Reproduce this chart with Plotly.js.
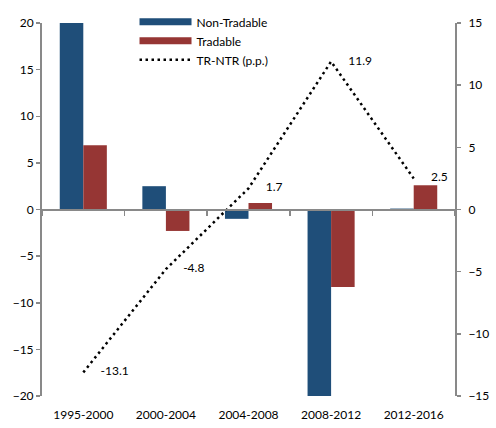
<!DOCTYPE html>
<html>
<head>
<meta charset="utf-8">
<script src="https://cdn.plot.ly/plotly-3.0.1.min.js"></script>
<style>html,body{margin:0;padding:0;background:#fff;}#chart{width:496px;height:428px;}</style>
</head>
<body>
<div id="chart"></div>
<script>
var categories = ["1995-2000", "2000-2004", "2004-2008", "2008-2012", "2012-2016"];
var nonTradable = [20.0, 2.5, -1.0, -20.2, 0.1];
var tradable = [6.9, -2.3, 0.7, -8.3, 2.6];
var trNtr = [-13.1, -4.8, 1.7, 11.9, 2.5];
var seriesNames = ["Non-Tradable", "Tradable", "TR-NTR (p.p.)"];

var blue = "#1F4E79";
var red = "#963634";
var grey = "#898989";
var font = {family: "Lato, 'Open Sans', sans-serif", size: 12, color: "#000"};

var traces = [
  {type: "bar", x: categories, y: nonTradable, name: seriesNames[0], marker: {color: blue}, showlegend: false, xaxis: "x", yaxis: "y", hoverinfo: "none"},
  {type: "bar", x: categories, y: tradable, name: seriesNames[1], marker: {color: red}, showlegend: false, xaxis: "x", yaxis: "y", hoverinfo: "none"},
  {type: "scatter", mode: "lines", x: [null], y: [null], name: seriesNames[0], line: {color: blue, width: 7}, xaxis: "x", yaxis: "y"},
  {type: "scatter", mode: "lines", x: [null], y: [null], name: seriesNames[1], line: {color: red, width: 7}, xaxis: "x", yaxis: "y"},
  {type: "scatter", mode: "lines", x: [null], y: [null], name: seriesNames[2], line: {color: "#000", width: 2.5, dash: "2.5px,3.5px"}, xaxis: "x", yaxis: "y"},
  {type: "scatter", mode: "lines+markers+text", x: categories, y: trNtr, name: seriesNames[2], showlegend: false,
   line: {color: "#000", width: 2.5, dash: "2.5px,3.5px"},
   marker: {size: 26, color: "rgba(0,0,0,0)"},
   text: trNtr.map(function (v) { return v.toFixed(1); }),
   textposition: "middle right", textfont: font, cliponaxis: false,
   xaxis: "x2", yaxis: "y2", hoverinfo: "none"}
];

var layout = {
  width: 496, height: 428,
  margin: {l: 42, r: 40.5, t: 23, b: 32, pad: 0, autoexpand: false},
  paper_bgcolor: "#fff", plot_bgcolor: "#fff",
  font: font,
  barmode: "group", bargap: 0.43, bargroupgap: 0,
  showlegend: true,
  legend: {x: 0.224, xanchor: "left", y: 1.042, yanchor: "top", bgcolor: "rgba(0,0,0,0)", font: font, itemwidth: 52, tracegroupgap: 0, traceorder: "normal"},
  xaxis: {type: "category", range: [-0.5, 4.5], showline: false, showgrid: false, zeroline: false, ticks: "outside", ticklen: 8, tickcolor: "rgba(0,0,0,0)", tickfont: font, fixedrange: true},
  xaxis2: {type: "category", overlaying: "x", anchor: "free", position: 0.5, range: [-0.5, 4.5], showline: true, linecolor: grey, linewidth: 2, ticks: "outside", tickson: "boundaries", ticklen: 5, tickwidth: 1.5, tickcolor: grey, showticklabels: false, showgrid: false, zeroline: false, fixedrange: true},
  yaxis: {range: [-20, 20], dtick: 5, showline: true, linecolor: grey, linewidth: 2, ticks: "outside", ticklen: 4, tickwidth: 1.5, tickcolor: grey, showgrid: false, zeroline: false, tickfont: font, fixedrange: true},
  yaxis2: {range: [-15, 15], dtick: 5, overlaying: "y", side: "right", anchor: "x2", showline: true, linecolor: grey, linewidth: 2, ticks: "outside", ticklen: 4, tickwidth: 1.5, tickcolor: grey, ticklabelstandoff: 5, showgrid: false, zeroline: false, tickfont: font, fixedrange: true}
};

Plotly.newPlot("chart", traces, layout, {displayModeBar: false, staticPlot: true});
</script>
</body>
</html>
